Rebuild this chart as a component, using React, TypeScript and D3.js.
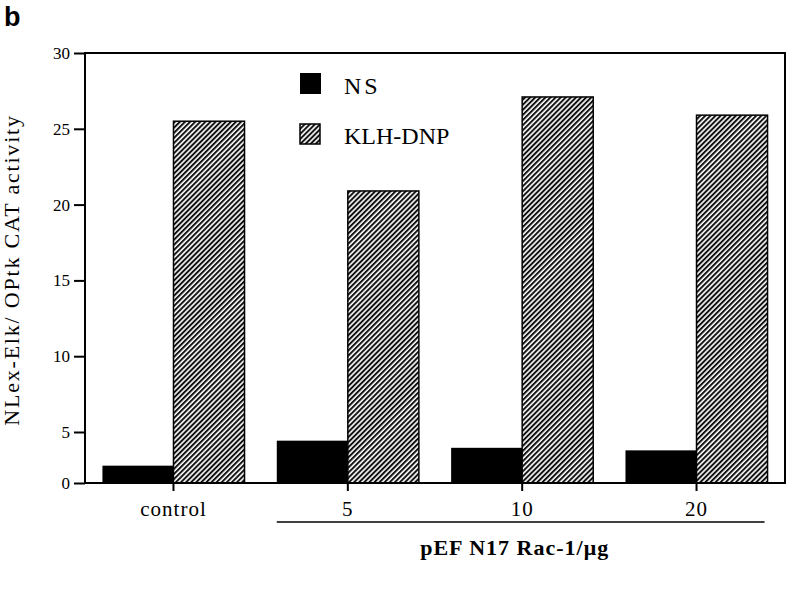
import React, { useEffect, useRef } from "react";
import * as d3 from "d3";

const categories = ["control", "5", "10", "20"];
const seriesNames = ["NS", "KLH-DNP"];
const nsValues = [1.7, 4.15, 3.45, 3.2];
const klhValues = [25.5, 20.9, 27.1, 25.9];
const yTicks = [0, 5, 10, 15, 20, 25, 30];
// the printed axis is compressed between 0 and 5
const yBreaks = [0, 5, 30];
const yTitle = "NLex-Elk/ OPtk CAT activity";
const groupLabel = "pEF N17 Rac-1/μg";
const panelLabel = "b";

const W = 791;
const H = 590;
const left = 85;
const right = 785;
const top = 53;
const bottom = 483;
const fiveY = 432;
const serif = "'Liberation Serif', 'Times New Roman', serif";

export default function App() {
  const yAxisRef = useRef<SVGGElement>(null);
  const xAxisRef = useRef<SVGGElement>(null);

  const x = d3.scaleBand().domain(categories).range([left, right]).paddingInner(0.185).paddingOuter(0.1);
  const y = d3.scaleLinear().domain(yBreaks).range([bottom, fiveY, top]);
  const bw = x.bandwidth() / 2;

  useEffect(() => {
    if (yAxisRef.current) {
      const g = d3.select(yAxisRef.current);
      g.call(d3.axisLeft(y).tickValues(yTicks).tickSize(11).tickPadding(4).tickFormat(d3.format("d")) as any);
      g.select(".domain").remove();
      g.attr("font-family", serif).attr("font-size", 17);
      g.selectAll(".tick line").attr("stroke", "#000").attr("stroke-width", 2);
      g.selectAll(".tick text").attr("fill", "#000");
    }
    if (xAxisRef.current) {
      const g = d3.select(xAxisRef.current);
      g.call(d3.axisBottom(x).tickSize(8).tickPadding(10) as any);
      g.select(".domain").remove();
      g.attr("font-family", serif).attr("font-size", 21);
      g.selectAll(".tick line").attr("stroke", "#000").attr("stroke-width", 2);
      g.selectAll(".tick text").attr("fill", "#000").attr("letter-spacing", 1);
    }
  }, []);

  const underlineStart = x("5")!;
  const underlineEnd = x("20")! + x.bandwidth() - 3;

  return (
    <svg width={W} height={H} style={{ position: "absolute", left: 0, top: 0, background: "#fff" }}>
      <defs>
        <pattern id="hatch" patternUnits="userSpaceOnUse" width={3.6} height={3.6} patternTransform="rotate(45)">
          <rect x={0} y={0} width={3.6} height={3.6} fill="#fff" />
          <rect x={0} y={0} width={2} height={3.6} fill="#111" />
        </pattern>
      </defs>
      <rect x={0} y={0} width={W} height={H} fill="#fff" />
      <text x={4} y={26} fontFamily="'Liberation Sans', Arial, sans-serif" fontWeight="bold" fontSize={27} fill="#000">
        {panelLabel}
      </text>

      {categories.map((c, i) => (
        <g key={c}>
          <rect x={x(c)!} y={y(nsValues[i])} width={bw} height={y(0) - y(nsValues[i])} fill="#000" />
          <rect
            x={x(c)! + bw}
            y={y(klhValues[i])}
            width={bw}
            height={y(0) - y(klhValues[i])}
            fill="url(#hatch)"
            stroke="#000"
            strokeWidth={1.5}
          />
        </g>
      ))}

      <rect x={left} y={top} width={right - left} height={bottom - top} fill="none" stroke="#000" strokeWidth={2} />

      <g ref={yAxisRef} transform={`translate(${left},0)`} />
      <g ref={xAxisRef} transform={`translate(0,${bottom})`} />

      <g fontFamily={serif} fill="#000">
        <rect x={300} y={73} width={21} height={21} fill="#000" />
        <text x={344} y={94} fontSize={24} letterSpacing={3}>{seriesNames[0]}</text>
        <rect x={300} y={124} width={20} height={20} fill="url(#hatch)" stroke="#000" strokeWidth={1.5} />
        <text x={344} y={144} fontSize={24}>{seriesNames[1]}</text>
      </g>

      <line x1={underlineStart} x2={underlineEnd} y1={522} y2={522} stroke="#000" strokeWidth={1.6} />
      <text x={(underlineStart + underlineEnd) / 2 - 6} y={555} textAnchor="middle" fontFamily={serif} fontWeight="bold" fontSize={22} letterSpacing={1} fill="#000">
        {groupLabel}
      </text>

      <text
        transform={`translate(19,270) rotate(-90)`}
        textAnchor="middle"
        fontFamily={serif}
        fontSize={22}
        letterSpacing={1.8}
        fill="#000"
      >
        {yTitle}
      </text>
    </svg>
  );
}
